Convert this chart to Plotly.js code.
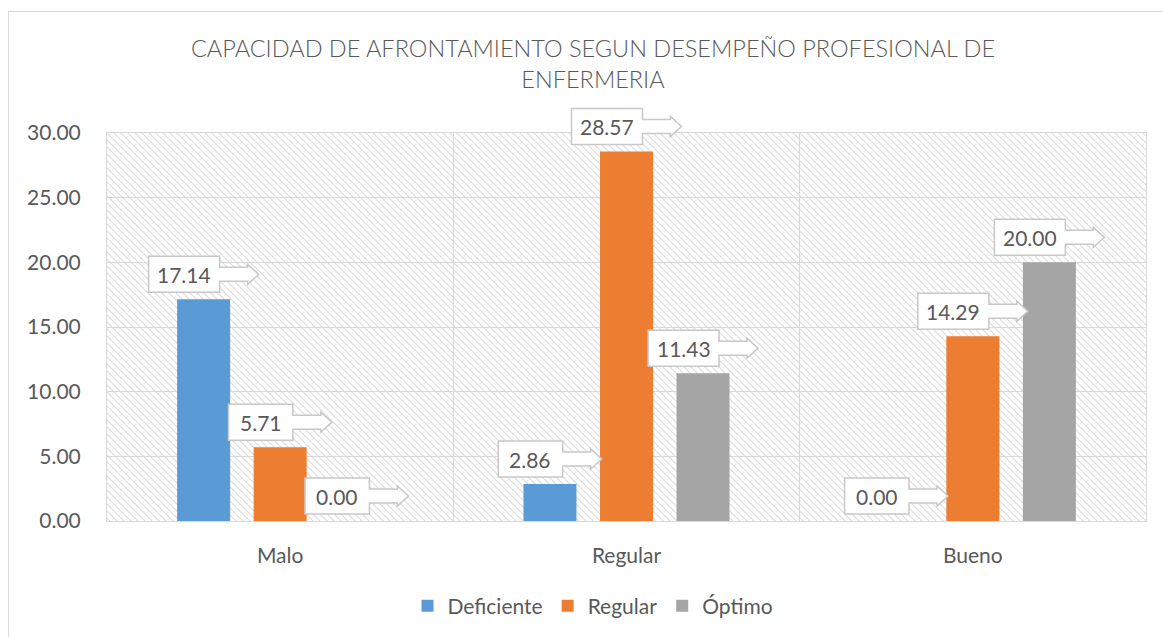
<!DOCTYPE html>
<html>
<head>
<meta charset="utf-8">
<script src="https://cdn.plot.ly/plotly-3.0.1.min.js"></script>
<style>
html,body{margin:0;padding:0;overflow:hidden;background:#fff;}
#wrap{position:relative;width:1163px;height:637px;}
#chart{width:1163px;height:637px;}
#frame{position:absolute;left:8px;top:11px;width:2000px;height:2000px;border:1.5px solid #d9d9d9;pointer-events:none;}
</style>
</head>
<body>
<div id="wrap"><div id="chart"></div><div id="frame"></div></div>
<script>
// ---- data ----
const categories = ["Malo", "Regular", "Bueno"];
const seriesNames = ["Deficiente", "Regular", "Óptimo"];
const deficiente = [17.14, 2.86, 0.00];
const regular = [5.71, 28.57, 14.29];
const optimo = [0.00, 11.43, 20.00];
const colors = ["#5B9BD5", "#ED7D31", "#A5A5A5"];
const yTickVals = [0, 5, 10, 15, 20, 25, 30];

const seriesValues = [deficiente, regular, optimo];
const yMax = 30;
const barWidth = 0.153;
const spacing = 0.221;
const textColor = "#595959";
const font = "Lato, 'Open Sans', sans-serif";

const traces = seriesValues.map((vals, i) => ({
  type: "bar",
  name: seriesNames[i],
  x: categories.map((c, k) => k),
  y: vals,
  width: barWidth,
  offset: (i - 1) * spacing - barWidth / 2,
  marker: {color: colors[i]},
  hoverinfo: "y"
}));

const shapes = [];
const annotations = [];
seriesValues.forEach((vals, i) => {
  vals.forEach((v, k) => {
    const label = v.toFixed(2);
    const cx = k + (i - 1) * spacing;
    const boxW = 38 + 6.6 * label.length;
    const total = boxW + 39;
    const L = -total / 2;
    const R = L + boxW;
    const bot = 7, top = 43, mid = 25;
    const sh = 7, hh = 10;
    const headStart = R + 28, tip = R + 39;
    const pts = [
      [L, top], [R, top], [R, mid + sh], [headStart, mid + sh], [headStart, mid + hh],
      [tip, mid], [headStart, mid - hh], [headStart, mid - sh], [R, mid - sh],
      [R, bot], [L, bot]
    ];
    const path = "M" + pts.map(p => p[0].toFixed(1) + "," + p[1].toFixed(1)).join(" L") + " Z";
    shapes.push({
      type: "path", xref: "paper", yref: "paper",
      xsizemode: "pixel", ysizemode: "pixel",
      xanchor: (cx + 0.5) / categories.length, yanchor: v / yMax,
      path: path,
      fillcolor: "#ffffff",
      line: {color: "#c8c8c8", width: 1.5},
      layer: "above"
    });
    annotations.push({
      x: cx, y: v, xref: "x", yref: "y",
      text: label, showarrow: false,
      xshift: (L + R) / 2, yshift: mid,
      font: {family: font, size: 21, color: textColor}
    });
  });
});

// hatch background for plot area
const pw = 1163 - 107 - 17, ph = 637 - 133 - 116;
const svg = `<svg xmlns="http://www.w3.org/2000/svg" width="${pw}" height="${ph}" viewBox="0 0 ${pw} ${ph}" preserveAspectRatio="none"><defs><pattern id="h" patternUnits="userSpaceOnUse" width="7" height="7"><path d="M0,0 L7,7 M-1,6 L1,8 M6,-1 L8,1" stroke="#dcdcdc" stroke-width="1.2"/></pattern></defs><rect width="100%" height="100%" fill="url(#h)"/></svg>`;
const hatch = "data:image/svg+xml;charset=utf-8," + encodeURIComponent(svg);

const layout = {
  width: 1163, height: 637,
  margin: {l: 107, r: 17, t: 133, b: 116},
  paper_bgcolor: "#ffffff",
  plot_bgcolor: "rgba(0,0,0,0)",
  barmode: "overlay",
  showlegend: true,
  title: {
    text: "CAPACIDAD DE AFRONTAMIENTO SEGUN DESEMPEÑO PROFESIONAL DE<br>ENFERMERIA",
    font: {family: font, size: 23.5, color: textColor, weight: 300},
    x: 593 / 1163, xref: "container", xanchor: "center",
    y: 1 - 57 / 637, yref: "container", yanchor: "top"
  },
  xaxis: {
    type: "linear",
    range: [-0.5, 2.5],
    tickvals: categories.map((c, k) => k),
    ticktext: categories,
    showgrid: false,
    zeroline: false,
    showline: true, mirror: true, linecolor: "#d9d9d9", linewidth: 1,
    ticks: "",
    ticklabelstandoff: 16,
    tickfont: {family: font, size: 21, color: textColor},
    minor: {tickvals: [0.5, 1.5], showgrid: true, gridcolor: "#d9d9d9", gridwidth: 1}
  },
  yaxis: {
    range: [0, yMax],
    tickvals: yTickVals,
    tickformat: ".2f",
    showgrid: true, gridcolor: "#d9d9d9", gridwidth: 1,
    zeroline: false,
    showline: true, mirror: true, linecolor: "#d9d9d9", linewidth: 1,
    ticks: "",
    ticklabelstandoff: 21,
    tickfont: {family: font, size: 21, color: textColor}
  },
  legend: {
    orientation: "h",
    xref: "container", yref: "container",
    x: 593 / 1163, xanchor: "center",
    y: 1 - 606 / 637, yanchor: "middle",
    font: {family: font, size: 21, color: textColor},
    itemwidth: 30,
    traceorder: "normal"
  },
  images: [{
    source: hatch, xref: "paper", yref: "paper",
    x: 0, y: 1, sizex: 1, sizey: 1, sizing: "stretch",
    xanchor: "left", yanchor: "top", layer: "below"
  }],
  shapes: shapes,
  annotations: annotations
};

Plotly.newPlot("chart", traces, layout, {displayModeBar: false, staticPlot: true});
</script>
</body>
</html>
